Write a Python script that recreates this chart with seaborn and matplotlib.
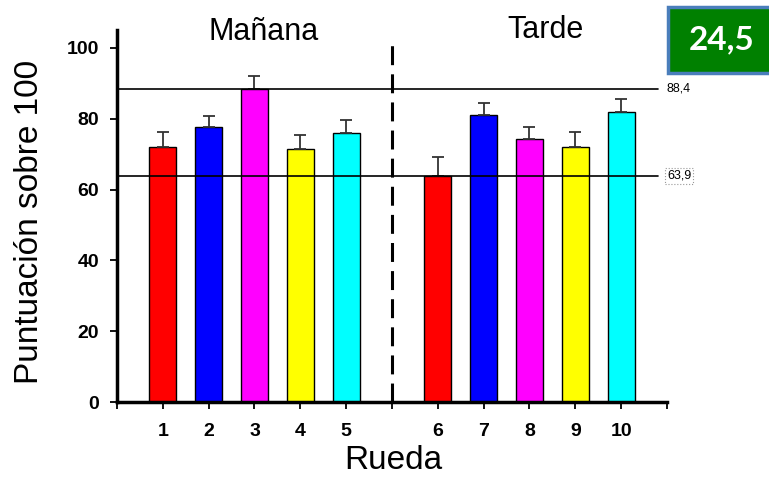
import matplotlib
matplotlib.use("Agg")
import matplotlib.pyplot as plt
import matplotlib.patches as mpatches
import numpy as np
import pandas as pd
import seaborn as sns

# ---- data ----
ruedas = ["1", "2", "3", "4", "5", "6", "7", "8", "9", "10"]
slots = [1, 2, 3, 4, 5, 7, 8, 9, 10, 11]          # x slot of each rueda (slot 6 = divider)
puntuacion = [72.0, 77.7, 88.4, 71.4, 75.9, 63.9, 80.9, 74.3, 72.1, 81.9]
error_sup = [4.1, 3.1, 3.6, 4.1, 3.7, 5.3, 3.5, 3.4, 4.2, 3.5]
colores = ["#FF0000", "#0000FF", "#FF00FF", "#FFFF00", "#00FFFF",
           "#FF0000", "#0000FF", "#FF00FF", "#FFFF00", "#00FFFF"]
linea_max = 88.4
linea_min = 63.9
etiqueta_max = "88,4"
etiqueta_min = "63,9"
grupos = ["Mañana", "Tarde"]
indicador = "24,5"

df = pd.DataFrame({"slot": slots, "valor": puntuacion, "rueda": ruedas})

sns.set_theme(style="white")
plt.rcParams["font.family"] = ["Liberation Sans", "DejaVu Sans"]
plt.rcParams["text.color"] = "black"
plt.rcParams["axes.labelcolor"] = "black"
plt.rcParams["xtick.color"] = "black"
plt.rcParams["ytick.color"] = "black"

fig = plt.figure(figsize=(7.69, 4.78), dpi=100)
ax = fig.add_axes([117 / 769, 75.7 / 478, 550 / 769, 372.3 / 478])

sns.barplot(data=df, x="slot", y="valor", hue="rueda", palette=colores,
            native_scale=True, width=0.59, edgecolor="black", linewidth=1.0,
            legend=False, dodge=False, ax=ax, errorbar=None, saturation=1)

ax.errorbar(slots, puntuacion, yerr=[np.zeros(len(error_sup)), error_sup],
            fmt="none", ecolor="#333333", elinewidth=1.3, capsize=4.3,
            capthick=1.3, zorder=1)

ax.set_xlim(0, 12)
ax.set_ylim(0, 105)

# reference lines
ax.axhline(linea_max, xmin=0, xmax=0.984, color="black", lw=1.2, zorder=3)
ax.axhline(linea_min, xmin=0, xmax=0.984, color="black", lw=1.2, zorder=3)
ax.text(12, linea_max, etiqueta_max, fontsize=9, va="center", ha="left",
        clip_on=False)
ax.text(12, linea_min, etiqueta_min, fontsize=9, va="center", ha="left",
        clip_on=False,
        bbox=dict(boxstyle="square,pad=0.15", fc="white", ec="#999999",
                  ls=":", lw=0.8))

# divider
ax.axvline(6, ymin=0, ymax=100.8 / 105, color="black", lw=2.2,
           linestyle=(0, (6.2, 3.0)), zorder=3)

# group titles
ax.text(3.19, 104.4, grupos[0], fontsize=22, ha="center", va="center",
        clip_on=False)
ax.text(9.34, 104.9, grupos[1], fontsize=22, ha="center", va="center",
        clip_on=False)

# axes styling
for s in ["top", "right"]:
    ax.spines[s].set_visible(False)
for s in ["left", "bottom"]:
    ax.spines[s].set_linewidth(2.5)
    ax.spines[s].set_color("black")

ax.set_yticks([0, 20, 40, 60, 80, 100])
ax.set_yticklabels(["0", "20", "40", "60", "80", "100"])
ax.set_xticks(list(range(0, 13)))
lab = [""] * 13
for s, r in zip(slots, ruedas):
    lab[s] = r
ax.set_xticklabels(lab)
ax.tick_params(axis="both", direction="out", length=5, width=1.3,
               color="black", labelcolor="black", labelsize=14,
               bottom=True, left=True)
ax.tick_params(axis="x", pad=10)
ax.tick_params(axis="y", pad=8)
for t in ax.get_xticklabels() + ax.get_yticklabels():
    t.set_fontweight("bold")

ax.set_xlabel("Rueda", fontsize=24, color="black")
ax.set_ylabel("Puntuación sobre 100", fontsize=24, color="black")
ax.xaxis.set_label_coords(0.502, -0.115)
ax.yaxis.set_label_coords(-0.131, 0.484)
ax.grid(False)

# green indicator box
rect = mpatches.Rectangle((668 / 769, 1 - 73 / 478), 110 / 769, 66 / 478,
                          transform=fig.transFigure, facecolor="#008000",
                          edgecolor="#4a7ebb", lw=2.5, clip_on=False)
fig.patches.append(rect)
fig.text(722 / 769, 1 - 40 / 478, indicador, color="white", fontsize=24,
         fontweight="bold", ha="center", va="center",
         family=["Lato", "Open Sans", "DejaVu Sans"])

fig.savefig("out.png", dpi=100)
